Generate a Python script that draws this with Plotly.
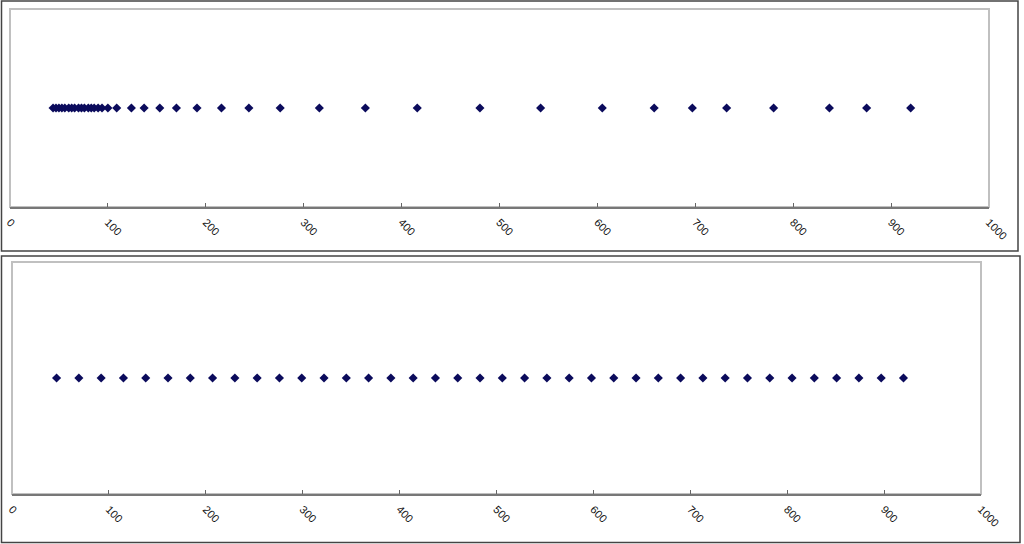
import plotly.graph_objects as go

W, H = 1024, 544

# top panel: values crowd together near the low end
x_top = [44, 47, 50, 53, 56, 60, 63, 66, 70, 73, 76, 80, 83, 86, 90, 94,
         100, 109, 124, 137, 153, 170, 191, 216, 244, 276, 316, 363, 416,
         480, 542, 605, 658, 697, 732, 780, 837, 875, 920]
y_top = [1] * len(x_top)

# bottom panel: evenly spread
x_bot = [46, 69, 92, 115, 138, 161, 184, 207, 230, 253, 276, 299, 322,
         345, 368, 391, 414, 437, 460, 483, 506, 529, 552, 575, 598, 621,
         644, 667, 690, 713, 736, 759, 782, 805, 828, 851, 874, 897, 920]
y_bot = [1] * len(x_bot)

TICKS = [0, 100, 200, 300, 400, 500, 600, 700, 800, 900, 1000]
NAVY = "#0b0b5c"


def px_x(p):
    return p / W


def px_y(p):
    return 1 - p / H


fig = go.Figure()
fig.add_trace(go.Scatter(x=x_top, y=y_top, mode="markers", xaxis="x", yaxis="y",
                         marker=dict(symbol="diamond", size=7, color=NAVY),
                         showlegend=False))
fig.add_trace(go.Scatter(x=x_bot, y=y_bot, mode="markers", xaxis="x2", yaxis="y2",
                         marker=dict(symbol="diamond", size=7, color=NAVY),
                         showlegend=False))

xax = dict(range=[0, 1000], tickvals=TICKS, tickangle=45, ticks="inside",
           ticklen=4, tickcolor="#666666", showline=True, linecolor="#777777",
           linewidth=1.5, showgrid=False, zeroline=False, ticklabelstandoff=3,
           automargin=False,
           tickfont=dict(family="Liberation Sans, Arial", size=11, color="#111111"))
yax = dict(range=[0, 2], visible=False, showgrid=False, zeroline=False,
           automargin=False)

fig.update_layout(
    width=W, height=H, autosize=False,
    margin=dict(l=0, r=0, t=0, b=0),
    paper_bgcolor="white", plot_bgcolor="white",
    xaxis=dict(xax, domain=[px_x(10), px_x(989)], anchor="y"),
    yaxis=dict(yax, domain=[px_y(207), px_y(9)], anchor="x"),
    xaxis2=dict(xax, domain=[px_x(12), px_x(981)], anchor="y2"),
    yaxis2=dict(yax, domain=[px_y(494), px_y(262)], anchor="x2"),
)

# plot-area borders (light grey) and outer chart frames (dark grey)
fig.add_shape(type="rect", xref="paper", yref="paper",
              x0=px_x(10), x1=px_x(989), y0=px_y(207), y1=px_y(9),
              line=dict(color="#c0c0c0", width=2), layer="below")
fig.add_shape(type="rect", xref="paper", yref="paper",
              x0=px_x(12), x1=px_x(981), y0=px_y(494), y1=px_y(262),
              line=dict(color="#c0c0c0", width=2), layer="below")
fig.add_shape(type="rect", xref="paper", yref="paper",
              x0=px_x(1.5), x1=px_x(1018), y0=px_y(251), y1=px_y(1),
              line=dict(color="#444444", width=1.5))
fig.add_shape(type="rect", xref="paper", yref="paper",
              x0=px_x(1.5), x1=px_x(1020), y0=px_y(542.5), y1=px_y(256),
              line=dict(color="#444444", width=1.5))

# drop the default page margin so the figure sits at the window's corner
fig.write_html("out.html",
               config={"responsive": False, "displayModeBar": False},
               post_script="document.body.style.margin='0px';"
                           "document.body.style.overflow='hidden';")
